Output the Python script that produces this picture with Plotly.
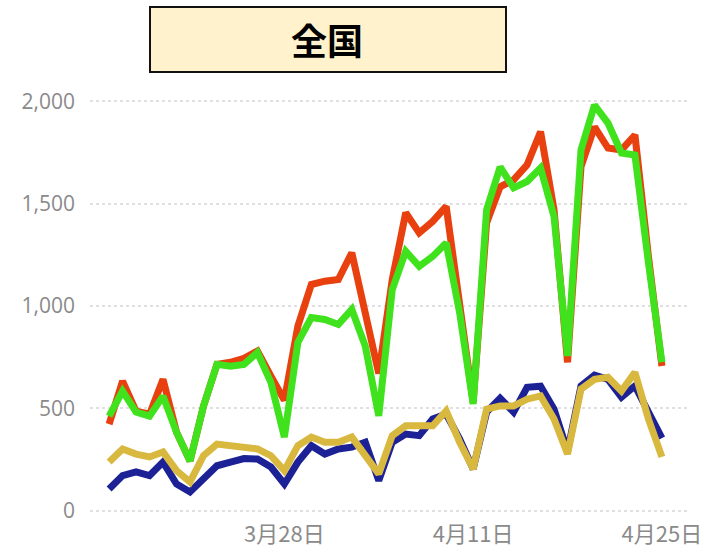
import plotly.graph_objects as go
import pandas as pd

dates = pd.date_range("2021-03-15", "2021-04-25", freq="D").strftime("%Y-%m-%d").tolist()

series_red = [423, 633, 487, 472, 642, 384, 243, 511, 715, 725, 745, 780, 658, 540,
              902, 1105, 1121, 1129, 1260, 968, 670, 1129, 1455, 1357, 1413, 1486, 999, 530,
              1406, 1582, 1616, 1689, 1851, 1470, 725, 1680, 1875, 1771, 1762, 1835, 1242, 707]
series_green = [462, 584, 482, 462, 560, 384, 243, 511, 715, 706, 715, 773, 627, 360,
                822, 944, 934, 910, 983, 804, 464, 1080, 1267, 1194, 1242, 1308, 967, 521,
                1470, 1679, 1577, 1608, 1674, 1437, 756, 1762, 1981, 1893, 1747, 1737, 1212, 725]
series_blue = [107, 172, 190, 172, 238, 131, 92, 156, 220, 238, 255, 253, 214, 131,
               238, 318, 277, 302, 311, 335, 148, 335, 375, 367, 448, 472, 350, 204,
               482, 550, 482, 603, 608, 496, 290, 610, 662, 642, 555, 610, 482, 355]
series_gold = [238, 302, 277, 263, 287, 196, 141, 269, 326, 318, 302, 302, 269, 196,
               318, 360, 335, 335, 360, 269, 180, 367, 415, 415, 415, 488, 335, 204,
               496, 512, 512, 545, 561, 448, 277, 594, 642, 652, 585, 676, 448, 263]

tick_dates = ["2021-03-28", "2021-04-11", "2021-04-25"]
tick_labels = ["3月28日", "4月11日", "4月25日"]
y_ticks = [0, 500, 1000, 1500, 2000]
title_text = "全国"

colors = {"red": "#E8400F", "green": "#3FE21C", "blue": "#1C2196", "gold": "#D8B83E"}

fig = go.Figure()
for name, vals in [("red", series_red), ("green", series_green),
                   ("blue", series_blue), ("gold", series_gold)]:
    fig.add_trace(go.Scatter(x=dates, y=vals, mode="lines", name=name,
                             line=dict(color=colors[name], width=7, shape="linear"),
                             showlegend=False, hoverinfo="skip"))

# plot area at x 90..690, y 93..519 (page body margin removed below)
fig.update_layout(
    width=716, height=552,
    margin=dict(l=90, r=26, t=93, b=33, autoexpand=False),
    paper_bgcolor="white", plot_bgcolor="white",
    xaxis=dict(
        range=["2021-03-13 14:00", "2021-04-27 02:00"],
        tickvals=tick_dates, ticktext=tick_labels, automargin=False,
        showgrid=False, zeroline=False, showline=False, ticks="",
        tickfont=dict(family="Noto Sans CJK JP", size=22, color="#8a8a8a"),
    ),
    yaxis=dict(
        range=[-40, 2040], tickvals=y_ticks, tickformat=",", automargin=False,
        showgrid=True, gridcolor="#e0e0e0", griddash="dot", gridwidth=2,
        zeroline=False, showline=False, ticks="",
        ticklabelstandoff=14,
        tickfont=dict(family="Open Sans", size=21, color="#8a8a8a"),
    ),
    shapes=[dict(type="rect", xref="paper", yref="paper",
                 x0=(150 - 90) / 600, x1=(506 - 90) / 600,
                 y0=(519 - 72) / 426, y1=(519 - 7) / 426,
                 fillcolor="#FFF2CC", line=dict(color="#111111", width=2), layer="above")],
    annotations=[dict(text="<b>" + title_text + "</b>", xref="paper", yref="paper",
                      x=(327 - 90) / 600, y=(519 - 39) / 426, showarrow=False,
                      xanchor="center", yanchor="middle",
                      font=dict(family="Noto Sans CJK JP", size=36, color="black"))],
)

fig.write_html("out.html", config={"displayModeBar": False},
               post_script="document.body.style.margin='0';document.body.style.overflow='hidden';")
